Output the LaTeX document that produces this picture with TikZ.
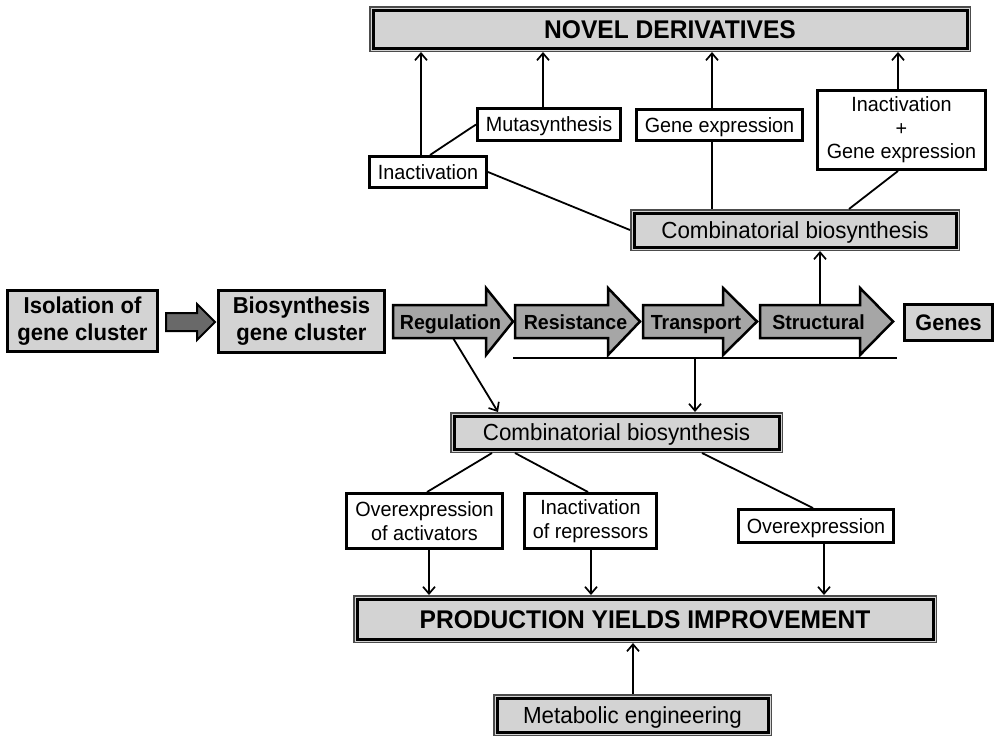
\documentclass[tikz,border=0pt]{standalone}
\usepackage{fontspec}
\setmainfont{Liberation Sans}[FakeStretch=0.96]
\usetikzlibrary{arrows.meta}
\definecolor{boxgray}{RGB}{211,211,211}
\definecolor{arrgray}{RGB}{166,166,166}
\definecolor{darkarr}{RGB}{105,105,105}
\begin{document}
\begin{tikzpicture}[x=1pt,y=-1pt,
  conn/.style={line width=1.8pt},
  arr/.style={line width=1.8pt,-{Straight Barb[length=7pt,width=12pt,line width=1.7pt]}},
  dbox/.style={draw=black,line width=3pt,fill=boxgray,inner sep=0pt,outer sep=4pt,
    preaction={draw=black!70,line width=8pt},preaction={draw=boxgray,line width=5pt},
    align=center,font=\fontsize{23.3}{26}\selectfont,text height=16.7pt,text depth=0pt},
  bigtxt/.style={font=\fontsize{25.6}{28}\selectfont\bfseries,text height=18.4pt,text depth=0pt},
  wbox/.style={draw=black,line width=3pt,fill=white,inner sep=0pt,align=center,
    font=\fontsize{20.6}{23.5}\selectfont},
  oneline/.style={text height=14.8pt,text depth=0pt},
  gbox/.style={draw=black,line width=3pt,fill=boxgray,inner sep=0pt,align=center,
    font=\fontsize{23}{27}\selectfont\bfseries},
  genearrow/.style={draw=black,line width=2.5pt,fill=arrgray,line join=miter},
  glabel/.style={font=\fontsize{20.4}{22}\selectfont\bfseries,inner sep=0pt,text height=14.6pt,text depth=0pt},
]
\useasboundingbox (0,0) rectangle (1000,740);
\fill[white] (0,0) rectangle (1000,740);

% top
\node[dbox,bigtxt,minimum width=594pt,minimum height=38pt] (nd) at (670,29) {NOVEL DERIVATIVES};
\node[wbox,oneline,minimum width=143pt,minimum height=32pt] (mut) at (549,124.5) {Mutasynthesis};
\node[wbox,oneline,minimum width=166pt,minimum height=31pt] (gex) at (719.5,125) {Gene expression};
\node[wbox,minimum width=168pt,minimum height=79pt] (igx) at (901.5,130) {Inactivation\\+\\Gene expression};
\node[wbox,oneline,minimum width=117pt,minimum height=31pt] (inac) at (428,172) {Inactivation};
\node[dbox,minimum width=322pt,minimum height=34pt] (cb1) at (795,230) {Combinatorial biosynthesis};

% middle row
\node[gbox,minimum width=150pt,minimum height=61pt] (iso) at (82.5,321) {Isolation of\\gene cluster};
\node[gbox,minimum width=166pt,minimum height=62pt] (bgc) at (301.5,321.5) {Biosynthesis\\gene cluster};
\node[gbox,font=\fontsize{22.5}{24}\selectfont\bfseries,text height=16.1pt,text depth=0pt,minimum width=88pt,minimum height=36pt] (genes) at (948.5,322.5) {Genes};

\draw[draw=black,line width=2pt,fill=darkarr,line join=miter]
  (166,313) -- (197,313) -- (197,304) -- (215,322) -- (197,340) -- (197,331) -- (166,331) -- cycle;

\draw[genearrow] (393,305) -- (486,305) -- (486,288) -- (513,321.5) -- (486,355) -- (486,338) -- (393,338) -- cycle;
\draw[genearrow] (515,305) -- (608,305) -- (608,288) -- (640,321.5) -- (608,355) -- (608,338) -- (515,338) -- cycle;
\draw[genearrow] (643,305) -- (723,305) -- (723,288) -- (757,321.5) -- (723,355) -- (723,338) -- (643,338) -- cycle;
\draw[genearrow] (760,305) -- (860,305) -- (860,288) -- (893,321.5) -- (860,355) -- (860,338) -- (760,338) -- cycle;
\node[glabel] (reg) at (450.5,322) {Regulation};
\node[glabel] (res) at (575.5,322) {Resistance};
\node[glabel] (tra) at (696,322) {Transport};
\node[glabel] (str) at (818.5,322) {Structural};

% lower
\node[dbox,minimum width=325pt,minimum height=33pt] (cb2) at (616.5,432.5) {Combinatorial biosynthesis};
\node[wbox,minimum width=156pt,minimum height=55pt] (oa) at (424.5,521) {Overexpression\\of activators};
\node[wbox,minimum width=132pt,minimum height=55pt] (ir) at (590.5,521) {Inactivation\\of repressors};
\node[wbox,oneline,minimum width=155pt,minimum height=33pt] (oe) at (816,526) {Overexpression};
\node[dbox,bigtxt,minimum width=576pt,minimum height=40pt] (pyi) at (645,619) {PRODUCTION YIELDS IMPROVEMENT};
\node[dbox,minimum width=271pt,minimum height=34pt] (me) at (632.5,715) {Metabolic engineering};

% coordinates
\coordinate (hlA) at (513,358);
\coordinate (hlB) at (897,358);
\coordinate (hlmid) at (695,358);
\coordinate (strtop) at (820,305);
\coordinate (regbot) at (453,338);
\coordinate (xa) at (421,0);
\coordinate (xb) at (543,0);
\coordinate (xc) at (712,0);
\coordinate (xd) at (898,0);
\coordinate (xe) at (849,0);
\coordinate (xp) at (430,0);
\coordinate (xq) at (498,0);
\coordinate (xf) at (492,0);
\coordinate (xg) at (427,0);
\coordinate (xh) at (515,0);
\coordinate (xi) at (588,0);
\coordinate (xj) at (702,0);
\coordinate (xk) at (813,0);
\coordinate (xl) at (429,0);
\coordinate (xm) at (591,0);
\coordinate (xn) at (824,0);
\coordinate (xo) at (633,0);

% connectors
\draw[arr] (xa |- inac.north) -- (xa |- nd.south);
\draw[arr] (xb |- mut.north) -- (xb |- nd.south);
\draw[arr] (xc |- gex.north) -- (xc |- nd.south);
\draw[arr] (xd |- igx.north) -- (xd |- nd.south);
\draw[conn] (xp |- inac.north) -- (mut.west);
\draw[conn] (inac.east) -- (cb1.west);
\draw[conn] (xc |- gex.south) -- (xc |- cb1.north);
\draw[conn] (xd |- igx.south) -- (xe |- cb1.north);
\draw[arr] (strtop) -- (strtop |- cb1.south);
\draw[conn] (hlA) -- (hlB);
\draw[arr] (hlmid) -- (hlmid |- cb2.north);
\draw[arr] (regbot) -- (xq |- cb2.north);
\draw[conn] (xf |- cb2.south) -- (xg |- oa.north);
\draw[conn] (xh |- cb2.south) -- (xi |- ir.north);
\draw[conn] (xj |- cb2.south) -- (xk |- oe.north);
\draw[arr] (xl |- oa.south) -- (xl |- pyi.north);
\draw[arr] (xm |- ir.south) -- (xm |- pyi.north);
\draw[arr] (xn |- oe.south) -- (xn |- pyi.north);
\draw[arr] (xo |- me.north) -- (xo |- pyi.south);
\end{tikzpicture}
\end{document}
